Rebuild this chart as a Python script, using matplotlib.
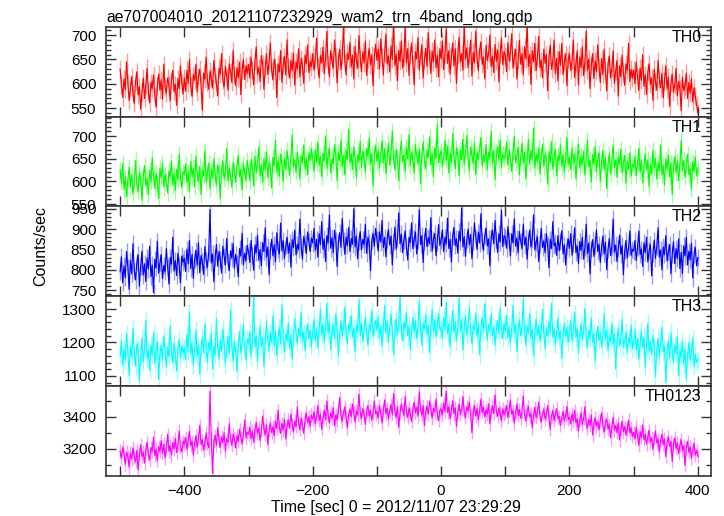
import numpy as np
import matplotlib
matplotlib.use("Agg")
import matplotlib.pyplot as plt
from matplotlib.ticker import MultipleLocator

plt.rcParams['font.family'] = ['Liberation Sans', 'DejaVu Sans']

title = "ae707004010_20121107232929_wam2_trn_4band_long.qdp"
xlabel = "Time [sec] 0 = 2012/11/07 23:29:29"
ylabel = "Counts/sec"
bands = ["TH0", "TH1", "TH2", "TH3", "TH0123"]
colors = ["#ff0000", "#00ff00", "#0000ff", "#00ffff", "#ff00ff"]

t_start = -500.0
t_bin = 2.0

th0 = [
 630, 598, 572, 610, 588, 645, 602, 566, 590, 615,
 580, 560, 605, 625, 577, 594, 548, 583, 612, 570,
 598, 632, 585, 561, 603, 590, 618, 575, 552, 596,
 620, 587, 608, 569, 640, 593, 581, 612, 598, 565,
 607, 628, 584, 599, 556, 611, 590, 637, 602, 579,
 612, 585, 628, 601, 650, 596, 574, 619, 607, 640,
 583, 615, 630, 598, 546, 622, 610, 655, 604, 589,
 626, 612, 591, 648, 617, 603, 575, 632, 620, 662,
 608, 594, 636, 615, 587, 641, 625, 603, 668, 618,
 596, 633, 612, 645, 578, 628, 650, 609, 637, 622,
 640, 612, 655, 628, 598, 647, 676, 620, 633, 605,
 658, 641, 589, 630, 662, 619, 645, 684, 627, 608,
 650, 636, 572, 641, 625, 668, 603, 639, 656, 618,
 690, 634, 612, 648, 627, 663, 597, 645, 631, 672,
 614, 652, 638, 601, 659, 642, 680, 623, 646, 635,
 662, 628, 651, 694, 637, 612, 658, 643, 675, 621,
 652, 708, 640, 615, 668, 646, 633, 690, 655, 602,
 648, 671, 629, 657, 720, 644, 618, 663, 650, 685,
 635, 659, 610, 677, 648, 632, 699, 654, 625, 666,
 643, 688, 617, 651, 673, 639, 660, 596, 655, 681,
 648, 671, 630, 692, 655, 618, 663, 702, 641, 657,
 624, 678, 650, 735, 637, 661, 606, 669, 646, 688,
 632, 655, 718, 643, 672, 617, 659, 684, 640, 598,
 666, 651, 695, 628, 657, 680, 612, 648, 673, 636,
 705, 654, 621, 667, 645, 690, 633, 659, 614, 672,
 651, 688, 629, 660, 713, 642, 668, 620, 655, 684,
 637, 672, 601, 659, 696, 645, 662, 628, 725, 650,
 674, 633, 658, 690, 616, 665, 643, 708, 652, 627,
 669, 686, 640, 655, 610, 679, 648, 662, 700, 635,
 657, 623, 681, 646, 670, 604, 661, 694, 639, 666,
 658, 625, 684, 647, 663, 703, 632, 655, 671, 610,
 649, 689, 640, 662, 618, 676, 651, 725, 636, 660,
 599, 668, 645, 683, 627, 654, 697, 633, 648, 612,
 671, 642, 660, 586, 655, 679, 630, 647, 690, 621,
 652, 606, 666, 638, 683, 619, 645, 662, 596, 650,
 661, 627, 648, 690, 613, 642, 668, 598, 655, 633,
 676, 617, 645, 708, 628, 651, 590, 639, 662, 611,
 647, 625, 680, 634, 603, 652, 619, 671, 628, 585,
 640, 657, 612, 633, 668, 601, 626, 648, 575, 637,
 614, 659, 622, 597, 641, 628, 683, 605, 630, 612,
 628, 600, 645, 613, 586, 632, 607, 660, 595, 619,
 578, 624, 641, 599, 612, 566, 630, 604, 587, 648,
 610, 592, 622, 571, 606, 637, 589, 614, 554, 601,
 620, 583, 598, 632, 575, 605, 590, 545, 613, 586,
 596, 622, 570, 603, 581, 610, 563, 592, 575, 558,
 540]

th1 = [
 625, 598, 640, 582, 610, 566, 603, 631, 589, 615,
 572, 600, 646, 593, 578, 620, 604, 558, 612, 635,
 590, 606, 571, 625, 598, 652, 610, 584, 618, 597,
 562, 629, 607, 640, 588, 615, 601, 575, 623, 609,
 645, 592, 618, 580, 627, 603, 660, 611, 586, 622,
 615, 638, 597, 621, 578, 644, 610, 629, 588, 655,
 617, 600, 633, 571, 625, 612, 667, 598, 620, 640,
 583, 627, 606, 650, 614, 592, 636, 620, 561, 628,
 645, 605, 619, 672, 601, 630, 612, 587, 641, 624,
 598, 635, 657, 610, 626, 581, 639, 618, 603, 646,
 625, 602, 648, 631, 590, 655, 619, 640, 676, 612,
 637, 598, 650, 626, 664, 608, 642, 629, 585, 653,
 634, 690, 620, 645, 611, 660, 637, 599, 651, 626,
 668, 641, 614, 655, 702, 633, 648, 620, 664, 639,
 605, 657, 642, 680, 628, 651, 615, 663, 645, 672,
 650, 622, 669, 641, 687, 636, 655, 610, 662, 645,
 700, 629, 658, 673, 618, 650, 639, 681, 656, 602,
 664, 645, 692, 633, 657, 614, 670, 648, 715, 640,
 661, 626, 676, 652, 608, 659, 644, 688, 631, 667,
 650, 620, 673, 655, 696, 638, 662, 590, 657, 679,
 644, 668, 630, 659, 690, 641, 672, 617, 655, 684,
 636, 663, 711, 648, 625, 670, 652, 601, 661, 689,
 643, 658, 622, 676, 650, 703, 634, 665, 646, 618,
 681, 655, 639, 672, 595, 660, 687, 645, 628, 669,
 653, 698, 636, 662, 610, 674, 649, 725, 641, 658,
 667, 632, 655, 690, 646, 678, 619, 662, 641, 705,
 653, 628, 674, 657, 612, 669, 648, 693, 637, 664,
 701, 650, 623, 676, 658, 640, 685, 615, 662, 648,
 672, 697, 634, 659, 643, 681, 626, 665, 652, 710,
 639, 668, 604, 655, 677, 646, 690, 631, 660, 649,
 658, 687, 636, 670, 648, 622, 665, 699, 641, 657,
 675, 614, 653, 684, 640, 664, 605, 651, 692, 638,
 668, 647, 718, 629, 660, 643, 674, 616, 655, 682,
 632, 661, 649, 594, 666, 640, 688, 627, 653, 671,
 612, 657, 645, 680, 633, 659, 621, 650, 697, 638,
 652, 626, 674, 640, 661, 605, 648, 683, 629, 655,
 637, 667, 614, 650, 691, 632, 646, 598, 659, 638,
 676, 621, 649, 662, 600, 643, 668, 627, 652, 584,
 639, 660, 617, 645, 679, 630, 648, 609, 655, 636,
 671, 619, 641, 657, 596, 644, 626, 662, 612, 638,
 631, 655, 612, 640, 673, 620, 646, 597, 634, 661,
 625, 648, 588, 637, 616, 669, 630, 651, 605, 642,
 623, 680, 614, 636, 592, 649, 627, 658, 610, 641,
 571, 633, 655, 618, 645, 602, 638, 690, 624, 647,
 609, 635, 660, 615, 628, 583, 643, 621, 654, 612,
 630]

th2 = [
 795, 832, 768, 810, 781, 845, 806, 752, 823, 790,
 864, 799, 775, 818, 837, 760, 809, 846, 787, 815,
 771, 829, 802, 858, 783, 812, 744, 826, 805, 870,
 792, 818, 837, 778, 811, 795, 852, 808, 765, 830,
 814, 880, 797, 823, 786, 841, 810, 768, 834, 819,
 828, 796, 851, 815, 872, 803, 838, 779, 826, 848,
 811, 866, 793, 835, 820, 788, 857, 824, 806, 843,
 948, 817, 839, 771, 830, 862, 809, 845, 826, 792,
 858, 833, 812, 877, 820, 798, 847, 829, 865, 804,
 838, 816, 783, 852, 835, 890, 812, 841, 823, 860,
 845, 818, 872, 836, 799, 861, 842, 885, 823, 850,
 810, 867, 845, 903, 831, 856, 788, 848, 875, 834,
 862, 820, 891, 851, 839, 915, 846, 872, 828, 859,
 880, 841, 866, 807, 874, 855, 898, 837, 863, 849,
 925, 858, 826, 882, 864, 840, 893, 870, 845, 878,
 866, 902, 848, 875, 831, 889, 862, 918, 850, 876,
 820, 884, 867, 935, 853, 879, 842, 897, 871, 808,
 868, 891, 855, 926, 872, 838, 881, 859, 904, 845,
 877, 863, 950, 856, 883, 827, 870, 894, 849, 875,
 862, 912, 840, 880, 866, 798, 871, 889, 858, 902,
 874, 846, 893, 868, 921, 855, 880, 832, 875, 899,
 861, 883, 812, 869, 905, 851, 877, 940, 864, 888,
 842, 873, 896, 858, 824, 880, 867, 915, 852, 876,
 893, 839, 871, 948, 862, 884, 818, 870, 902, 857,
 879, 864, 928, 846, 874, 889, 835, 868, 911, 860,
 872, 898, 845, 880, 864, 927, 852, 875, 819, 883,
 904, 860, 876, 841, 895, 870, 952, 856, 881, 833,
 874, 900, 862, 887, 827, 869, 915, 878, 850, 892,
 866, 938, 871, 848, 885, 902, 859, 876, 810, 880,
 897, 864, 921, 875, 843, 889, 868, 946, 857, 884,
 880, 853, 906, 872, 834, 889, 866, 925, 858, 878,
 842, 894, 870, 853, 912, 861, 880, 826, 872, 898,
 856, 875, 935, 849, 868, 881, 820, 863, 902, 855,
 870, 842, 889, 861, 805, 875, 852, 918, 859, 866,
 835, 884, 847, 870, 896, 839, 862, 812, 858, 876,
 852, 889, 836, 864, 903, 842, 858, 815, 870, 848,
 880, 826, 855, 912, 840, 866, 790, 851, 874, 833,
 859, 898, 845, 862, 818, 856, 883, 839, 868, 800,
 849, 877, 835, 858, 925, 843, 861, 820, 852, 885,
 838, 860, 788, 847, 872, 829, 855, 895, 836, 850,
 846, 872, 823, 855, 895, 838, 851, 808, 866, 842,
 880, 819, 847, 862, 785, 840, 873, 828, 858, 903,
 831, 849, 800, 856, 837, 884, 822, 845, 862, 790,
 838, 869, 815, 852, 828, 876, 803, 843, 791, 859,
 834, 880, 812, 846, 825, 866, 780, 838, 855, 810,
 830]

th3 = [
 1160, 1205, 1132, 1181, 1148, 1226, 1170, 1102, 1188, 1155,
 1240, 1167, 1129, 1196, 1174, 1085, 1159, 1213, 1142, 1183,
 1265, 1150, 1178, 1117, 1192, 1161, 1230, 1138, 1175, 1204,
 1090, 1168, 1189, 1146, 1220, 1171, 1127, 1186, 1158, 1248,
 1176, 1140, 1199, 1163, 1115, 1182, 1209, 1153, 1190, 1170,
 1185, 1150, 1224, 1172, 1290, 1166, 1198, 1131, 1180, 1237,
 1159, 1192, 1105, 1176, 1215, 1168, 1254, 1183, 1142, 1200,
 1177, 1229, 1120, 1189, 1163, 1271, 1185, 1150, 1207, 1174,
 1240, 1192, 1136, 1181, 1218, 1167, 1298, 1188, 1145, 1204,
 1179, 1113, 1193, 1233, 1168, 1201, 1255, 1180, 1147, 1210,
 1195, 1232, 1158, 1204, 1335, 1186, 1220, 1143, 1207, 1250,
 1190, 1216, 1128, 1199, 1262, 1211, 1175, 1228, 1201, 1280,
 1189, 1235, 1161, 1213, 1244, 1196, 1312, 1218, 1170, 1226,
 1207, 1258, 1182, 1224, 1150, 1215, 1271, 1230, 1197, 1242,
 1219, 1290, 1204, 1233, 1176, 1226, 1255, 1211, 1236, 1188,
 1232, 1270, 1205, 1244, 1185, 1238, 1299, 1222, 1256, 1200,
 1241, 1317, 1228, 1262, 1178, 1236, 1252, 1212, 1285, 1239,
 1160, 1230, 1264, 1219, 1247, 1305, 1226, 1195, 1255, 1238,
 1280, 1216, 1242, 1172, 1250, 1233, 1327, 1221, 1258, 1203,
 1245, 1276, 1229, 1190, 1253, 1237, 1296, 1218, 1246, 1265,
 1236, 1278, 1214, 1251, 1189, 1244, 1310, 1228, 1263, 1201,
 1247, 1285, 1232, 1165, 1240, 1272, 1222, 1256, 1336, 1235,
 1205, 1261, 1243, 1290, 1219, 1250, 1178, 1238, 1275, 1231,
 1264, 1211, 1248, 1325, 1236, 1192, 1257, 1241, 1283, 1225,
 1252, 1170, 1246, 1300, 1233, 1268, 1215, 1249, 1287, 1238,
 1245, 1210, 1276, 1238, 1320, 1226, 1256, 1186, 1241, 1295,
 1230, 1262, 1204, 1248, 1333, 1236, 1269, 1178, 1243, 1280,
 1222, 1255, 1305, 1231, 1196, 1250, 1238, 1288, 1217, 1259,
 1163, 1240, 1274, 1229, 1316, 1246, 1207, 1253, 1235, 1284,
 1221, 1247, 1192, 1238, 1266, 1225, 1302, 1240, 1211, 1256,
 1232, 1281, 1215, 1246, 1198, 1239, 1310, 1228, 1255, 1172,
 1236, 1268, 1220, 1246, 1330, 1231, 1192, 1250, 1227, 1286,
 1212, 1240, 1160, 1233, 1270, 1221, 1251, 1203, 1238, 1299,
 1225, 1182, 1244, 1219, 1262, 1228, 1317, 1215, 1241, 1195,
 1230, 1273, 1211, 1236, 1152, 1226, 1258, 1218, 1245, 1200,
 1228, 1265, 1204, 1236, 1290, 1215, 1242, 1168, 1226, 1256,
 1208, 1233, 1302, 1219, 1184, 1237, 1212, 1274, 1200, 1229,
 1145, 1216, 1248, 1206, 1231, 1187, 1223, 1285, 1210, 1238,
 1176, 1219, 1203, 1258, 1195, 1226, 1120, 1208, 1244, 1190,
 1213, 1270, 1186, 1205, 1231, 1169, 1214, 1198, 1252, 1181,
 1203, 1240, 1178, 1212, 1150, 1196, 1234, 1185, 1216, 1125,
 1192, 1258, 1176, 1204, 1163, 1221, 1187, 1098, 1179, 1213,
 1160, 1197, 1245, 1172, 1188, 1082, 1169, 1206, 1154, 1228,
 1175, 1141, 1193, 1166, 1217, 1100, 1177, 1158, 1204, 1135,
 1181, 1090, 1162, 1199, 1147, 1175, 1215, 1128, 1166, 1140,
 1150]

th0123 = [
 3185, 3140, 3210, 3165, 3102, 3178, 3150, 3085, 3172, 3135,
 3205, 3148, 3120, 3190, 3068, 3162, 3225, 3150, 3178, 3110,
 3195, 3240, 3165, 3130, 3208, 3182, 3272, 3156, 3197, 3125,
 3213, 3186, 3250, 3170, 3228, 3142, 3205, 3290, 3183, 3219,
 3160, 3238, 3199, 3262, 3175, 3225, 3310, 3208, 3180, 3246,
 3228, 3270, 3195, 3252, 3310, 3218, 3246, 3160, 3235, 3281,
 3209, 3263, 3345, 3226, 3255, 3190, 3240, 3298, 3232, 3205,
 3560, 3265, 3045, 3248, 3284, 3220, 3330, 3251, 3208, 3275,
 3237, 3300, 3185, 3262, 3240, 3356, 3258, 3222, 3290, 3265,
 3205, 3283, 3247, 3320, 3270, 3230, 3295, 3380, 3268, 3302,
 3290, 3335, 3262, 3310, 3240, 3318, 3365, 3295, 3330, 3250,
 3312, 3405, 3320, 3288, 3347, 3226, 3315, 3362, 3300, 3338,
 3280, 3372, 3325, 3440, 3340, 3296, 3358, 3318, 3385, 3260,
 3345, 3380, 3328, 3415, 3352, 3305, 3372, 3338, 3460, 3360,
 3320, 3392, 3350, 3295, 3378, 3425, 3362, 3398, 3340, 3410,
 3385, 3430, 3356, 3402, 3470, 3376, 3415, 3320, 3395, 3440,
 3380, 3498, 3408, 3362, 3425, 3390, 3455, 3342, 3412, 3380,
 3437, 3520, 3405, 3372, 3428, 3460, 3396, 3330, 3418, 3445,
 3400, 3480, 3422, 3367, 3436, 3410, 3540, 3425, 3388, 3450,
 3415, 3352, 3432, 3470, 3405, 3440, 3378, 3425, 3500, 3418,
 3432, 3395, 3468, 3420, 3360, 3440, 3505, 3418, 3452, 3385,
 3438, 3475, 3412, 3545, 3430, 3398, 3462, 3335, 3425, 3480,
 3440, 3410, 3525, 3436, 3395, 3455, 3420, 3370, 3448, 3490,
 3426, 3460, 3402, 3555, 3438, 3412, 3470, 3345, 3430, 3465,
 3415, 3498, 3444, 3390, 3452, 3428, 3510, 3420, 3375, 3440,
 3450, 3410, 3485, 3432, 3560, 3425, 3462, 3388, 3440, 3500,
 3418, 3455, 3340, 3430, 3478, 3412, 3446, 3525, 3430, 3395,
 3462, 3436, 3492, 3415, 3300, 3428, 3470, 3405, 3452, 3380,
 3438, 3510, 3425, 3460, 3398, 3442, 3415, 3480, 3355, 3430,
 3468, 3420, 3535, 3438, 3402, 3455, 3425, 3372, 3448, 3412,
 3430, 3470, 3395, 3442, 3505, 3415, 3438, 3360, 3425, 3480,
 3408, 3446, 3390, 3430, 3528, 3412, 3375, 3435, 3462, 3398,
 3418, 3330, 3410, 3458, 3395, 3425, 3490, 3402, 3368, 3420,
 3445, 3385, 3412, 3470, 3392, 3320, 3405, 3438, 3376, 3415,
 3450, 3388, 3402, 3345, 3396, 3430, 3372, 3408, 3465, 3382,
 3395, 3355, 3420, 3372, 3440, 3360, 3386, 3310, 3378, 3425,
 3350, 3392, 3462, 3365, 3330, 3384, 3345, 3410, 3286, 3358,
 3392, 3340, 3370, 3318, 3375, 3425, 3342, 3306, 3360, 3385,
 3322, 3350, 3268, 3338, 3395, 3315, 3345, 3300, 3362, 3255,
 3328, 3370, 3305, 3340, 3285, 3322, 3378, 3298, 3330, 3275,
 3300, 3262, 3335, 3282, 3220, 3305, 3270, 3348, 3256, 3290,
 3228, 3276, 3315, 3240, 3268, 3195, 3262, 3310, 3235, 3258,
 3180, 3250, 3290, 3226, 3262, 3150, 3238, 3274, 3214, 3245,
 3120, 3225, 3268, 3200, 3236, 3170, 3222, 3255, 3190, 3218,
 3095, 3205, 3246, 3175, 3210, 3140, 3198, 3232, 3160, 3190,
 3150]

series = [th0, th1, th2, th3, th0123]
errors = [18, 18, 21, 26, 42]
ylims = [(533, 716), (545, 743), (735, 956), (1069, 1338), (3029, 3590)]
ymajor = [50, 50, 50, 100, 200]
yminor = [10, 10, 10, 20, 100]
xlim = (-522, 420)

W, H = 724, 516
fig = plt.figure(figsize=(W / 100, H / 100), dpi=100)
left, right = 106 / W, 710.7 / W
bounds = [27.3, 116.5, 206.3, 296.3, 386.3, 476.0]

for i in range(5):
    top_px, bot_px = bounds[i], bounds[i + 1]
    ax = fig.add_axes([left, 1 - bot_px / H, right - left, (bot_px - top_px) / H])
    y = np.asarray(series[i], dtype=float)
    t = t_start + t_bin * np.arange(len(y))
    ax.errorbar(t, y, yerr=errors[i], fmt='none', ecolor=colors[i],
                elinewidth=1.0, alpha=0.4, zorder=1)
    ax.plot(t, y, color=colors[i], lw=0.85, zorder=2)
    ax.set_xlim(*xlim)
    ax.set_ylim(*ylims[i])
    ax.xaxis.set_major_locator(MultipleLocator(200))
    ax.xaxis.set_minor_locator(MultipleLocator(100))
    ax.yaxis.set_major_locator(MultipleLocator(ymajor[i]))
    ax.yaxis.set_minor_locator(MultipleLocator(yminor[i]))
    ax.tick_params(which='both', direction='in', top=True, right=True,
                   width=1.0, colors='#333333', labelcolor='black', labelsize=11)
    ax.tick_params(which='major', length=7)
    ax.tick_params(which='minor', length=3.5)
    ax.tick_params(axis='x', which='minor', length=7)
    ax.tick_params(axis='y', pad=7)
    ax.tick_params(axis='x', pad=6)
    for s in ax.spines.values():
        s.set_linewidth(1.2)
        s.set_color('#333333')
    if i < 4:
        ax.tick_params(axis='x', labelbottom=False)
    ax.text(0.985, 0.965, bands[i], transform=ax.transAxes, ha='right', va='top',
            fontsize=11.5, color='black')
    if i == 0:
        ax.set_title(title, loc='left', fontsize=11.3, pad=4)
    if i == 4:
        ax.set_xlabel(xlabel, fontsize=11.5)
        ax.xaxis.set_label_coords(0.4796, -0.265)

fig.text(41 / W, 1 - 246 / H, ylabel, rotation=90, ha='center', va='center', fontsize=11.5)

fig.savefig("out.png", dpi=100)
